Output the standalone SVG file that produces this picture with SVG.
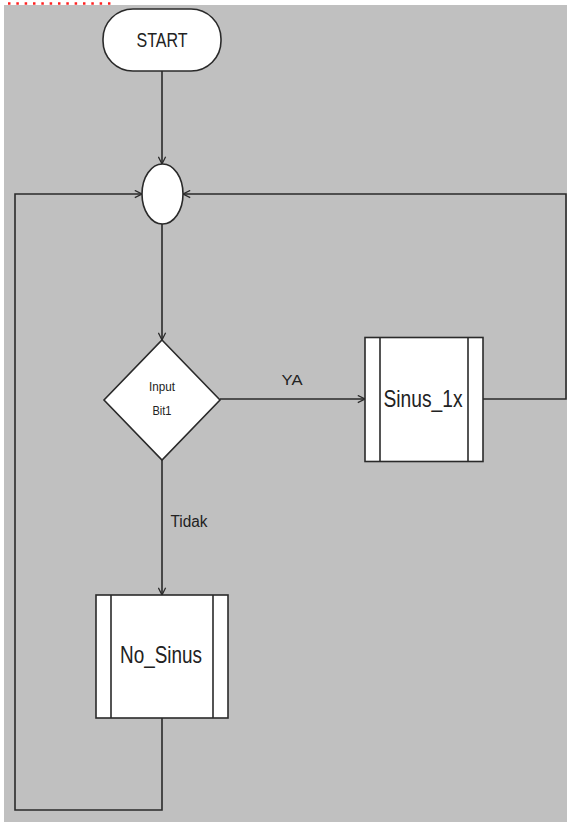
<svg xmlns="http://www.w3.org/2000/svg" width="567" height="822" viewBox="0 0 567 822">
<defs>
<style>
.ln{fill:none;stroke:#2a2a2a;stroke-width:1.6}
.nd{fill:#ffffff;stroke:#2a2a2a;stroke-width:1.6}
.tx{font-family:"Liberation Sans",Arial,sans-serif;fill:#222;text-anchor:middle}
</style>
<marker id="arr" viewBox="0 0 10 10" refX="9" refY="5" markerWidth="9" markerHeight="9" markerUnits="userSpaceOnUse" orient="auto">
<path d="M1,1 L9,5 L1,9" fill="none" stroke="#2a2a2a" stroke-width="1.4"/>
</marker>
</defs>
<rect x="0" y="0" width="567" height="822" fill="#ffffff"/>
<rect x="4" y="5" width="563" height="817" fill="#c0c0c0"/>
<line x1="8" y1="3.5" x2="112" y2="3.5" stroke="#ff2020" stroke-width="2.5" stroke-dasharray="2.5 5.83"/>
<g id="connectors">
<line class="ln" x1="162" y1="71" x2="162" y2="164" marker-end="url(#arr)"/>
<polyline class="ln" points="162,718 162,810 15,810 15,194 142,194" marker-end="url(#arr)"/>
<polyline class="ln" points="483,399 566,399 566,194 183,194" marker-end="url(#arr)"/>
<line class="ln" x1="162" y1="224" x2="162" y2="340" marker-end="url(#arr)"/>
<line class="ln" x1="220" y1="399" x2="365" y2="399" marker-end="url(#arr)"/>
<line class="ln" x1="162" y1="460" x2="162" y2="595" marker-end="url(#arr)"/>
<text class="tx" x="292" y="385" font-size="15" textLength="21" lengthAdjust="spacingAndGlyphs">YA</text>
<text class="tx" x="189" y="527" font-size="16" textLength="37" lengthAdjust="spacingAndGlyphs">Tidak</text>
</g>
<g id="start">
<rect class="nd" x="103" y="9" width="118" height="62" rx="30" ry="30"/>
<text class="tx" x="162" y="47" font-size="20" textLength="51" lengthAdjust="spacingAndGlyphs">START</text>
</g>
<g id="junction">
<ellipse class="nd" cx="162.5" cy="194" rx="20.5" ry="30"/>
</g>
<g id="decision">
<polygon class="nd" points="162,340 220,400 162,460 104,400"/>
<text class="tx" x="162" y="391" font-size="13" textLength="26" lengthAdjust="spacingAndGlyphs">Input</text>
<text class="tx" x="162" y="415" font-size="13" textLength="19" lengthAdjust="spacingAndGlyphs">Bit1</text>
</g>
<g id="sinus1x">
<rect class="nd" x="365" y="337.5" width="118" height="124"/>
<line class="ln" x1="380" y1="337.5" x2="380" y2="461.5"/>
<line class="ln" x1="468" y1="337.5" x2="468" y2="461.5"/>
<text class="tx" x="423" y="407" font-size="24" textLength="79" lengthAdjust="spacingAndGlyphs">Sinus_1x</text>
</g>
<g id="nosinus">
<rect class="nd" x="96" y="595" width="132" height="123"/>
<line class="ln" x1="111" y1="595" x2="111" y2="718"/>
<line class="ln" x1="213" y1="595" x2="213" y2="718"/>
<text class="tx" x="161" y="663" font-size="24" textLength="82" lengthAdjust="spacingAndGlyphs">No_Sinus</text>
</g>
</svg>
